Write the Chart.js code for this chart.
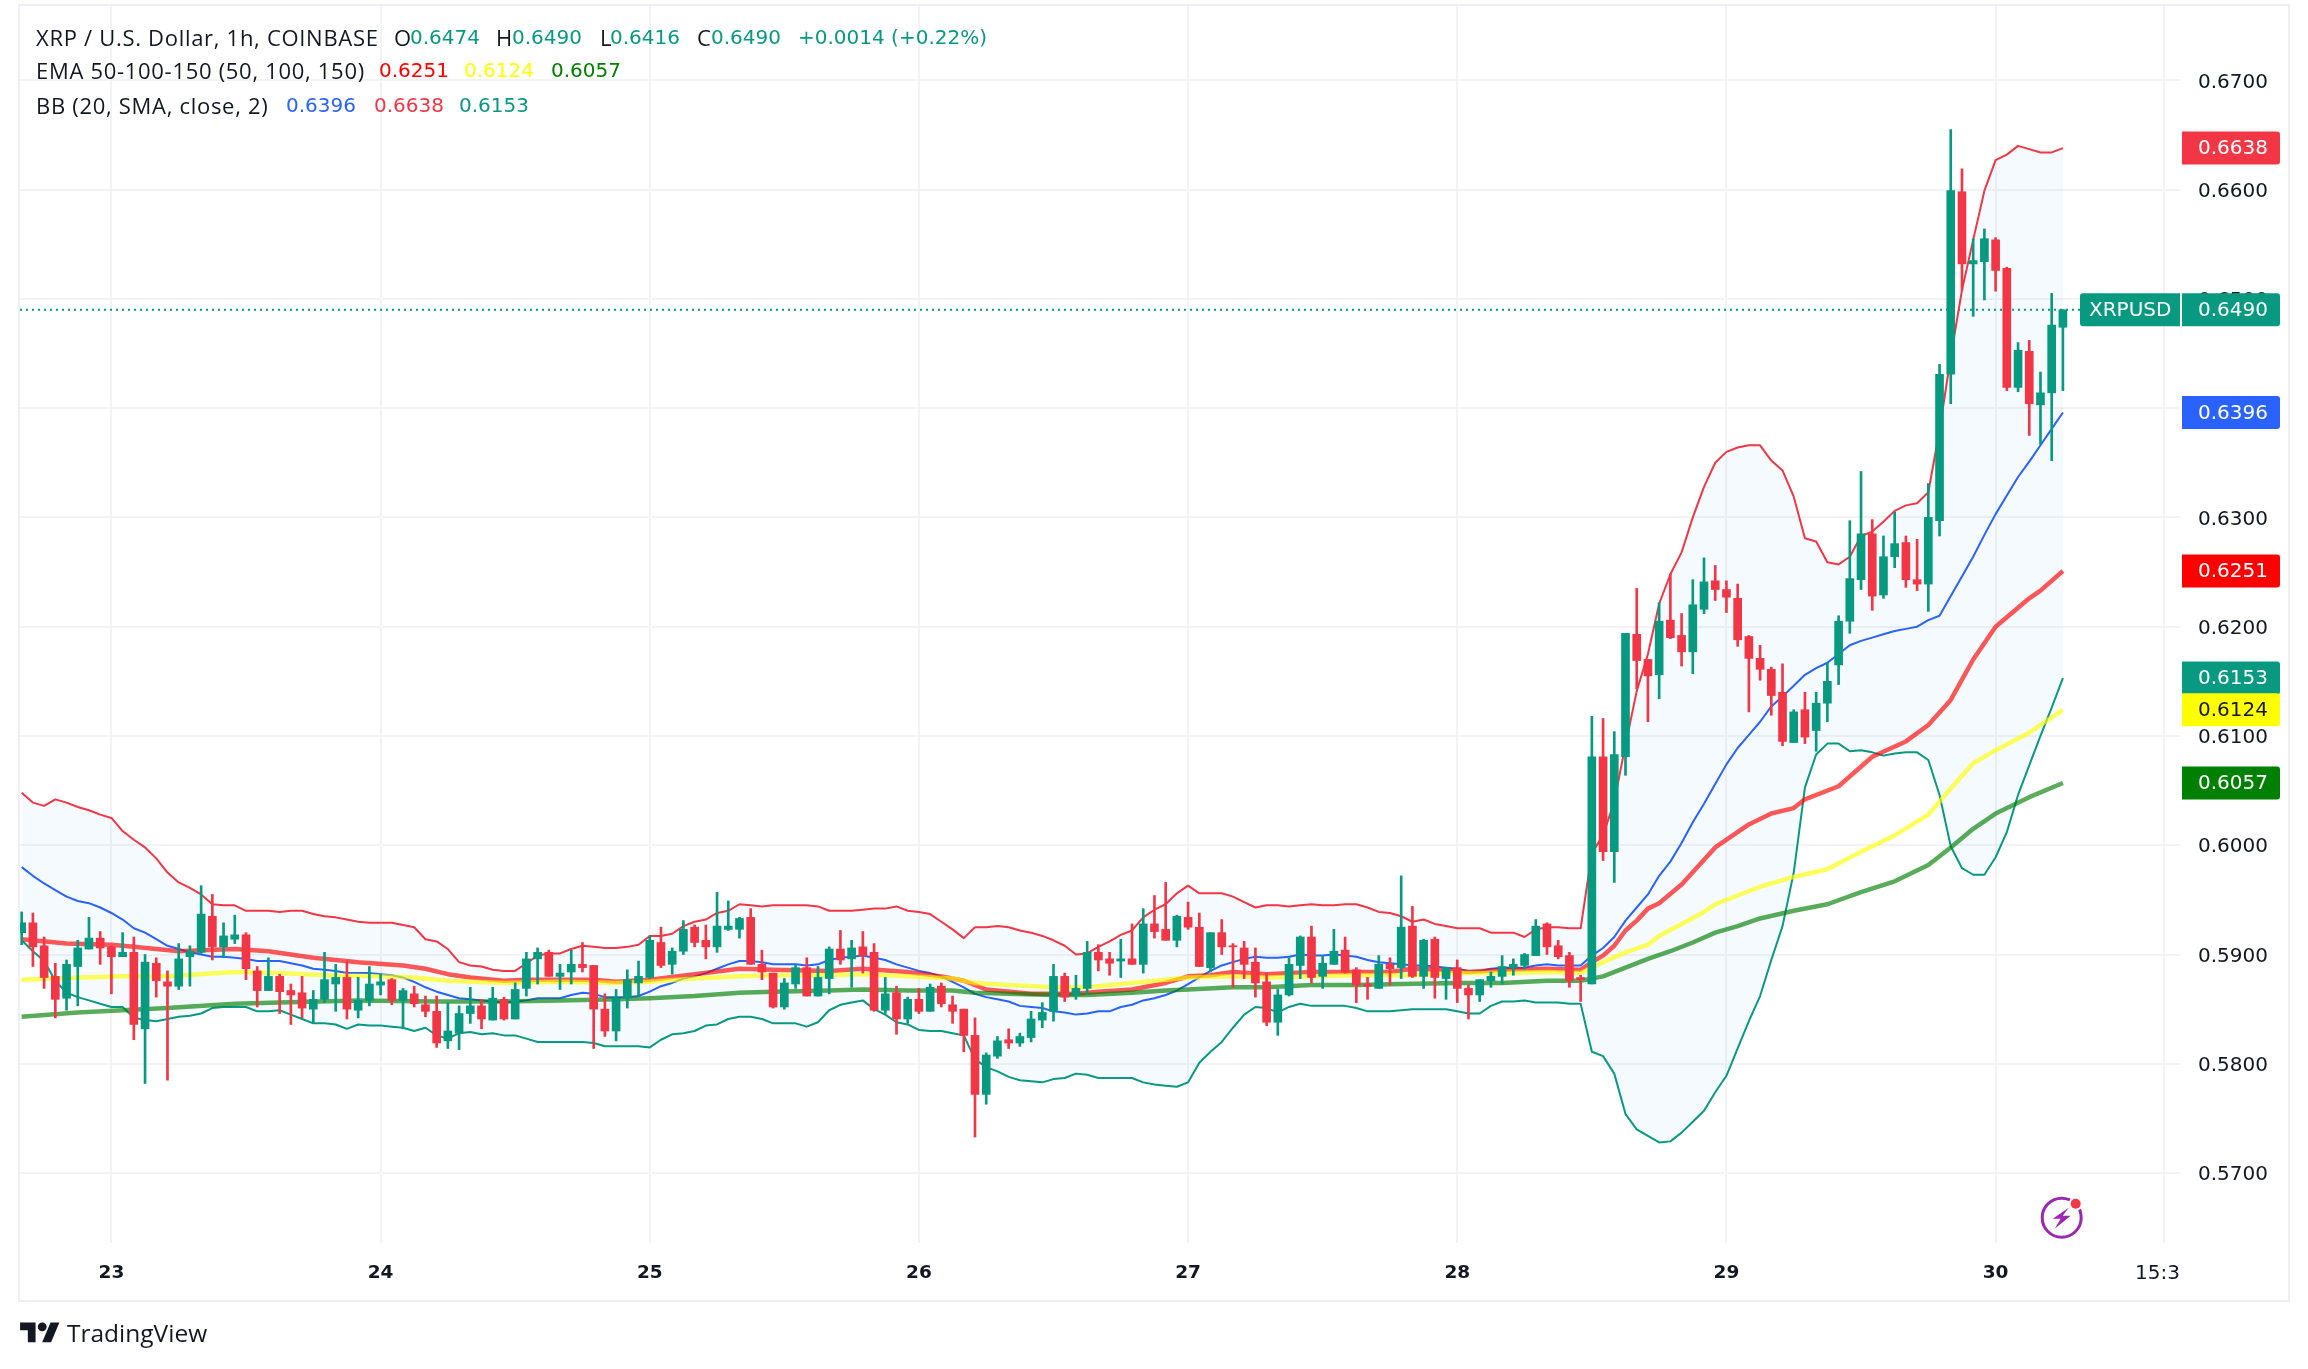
<!DOCTYPE html>
<html><head><meta charset="utf-8">
<script src="https://cdn.jsdelivr.net/npm/chart.js@4"></script>
<style>
html,body{margin:0;padding:0;background:#fff;width:2308px;height:1369px;overflow:hidden}
#c{position:absolute;left:0;top:0}
#frame{position:absolute;left:18px;top:4px;width:2268px;height:1294px;border:2px solid #eeeef4;pointer-events:none}
.t{position:absolute;font:20px/24px "DejaVu Sans";color:#131722;white-space:pre}
.l{font:22px/24px "Open Sans";letter-spacing:.7px}
.g{color:#089981}
#brand{position:absolute;left:67px;top:1315px;font:24.5px/36px "Open Sans";color:#131722}
#logo{position:absolute;left:20px;top:1318px}
</style></head><body>
<canvas id="c" width="2308" height="1369"></canvas>
<div id="frame"></div>
<div class="t l" style="left:36px;top:25px">XRP / U.S. Dollar, 1h, COINBASE</div>
<div class="t l" style="left:394px;top:25px">O</div><div class="t g" style="left:410px;top:25px">0.6474</div>
<div class="t l" style="left:496px;top:25px">H</div><div class="t g" style="left:512px;top:25px">0.6490</div>
<div class="t l" style="left:600px;top:25px">L</div><div class="t g" style="left:610px;top:25px">0.6416</div>
<div class="t l" style="left:697px;top:25px">C</div><div class="t g" style="left:711px;top:25px">0.6490</div>
<div class="t g" style="left:798px;top:25px">+0.0014 (+0.22%)</div>
<div class="t l" style="left:36px;top:58px">EMA 50-100-150 (50, 100, 150)</div>
<div class="t" style="left:379px;top:58px;color:#ff0000">0.6251</div>
<div class="t" style="left:464px;top:58px;color:#ffff00">0.6124</div>
<div class="t" style="left:551px;top:58px;color:#008000">0.6057</div>
<div class="t l" style="left:36px;top:93px">BB (20, SMA, close, 2)</div>
<div class="t" style="left:286px;top:93px;color:#2962ff">0.6396</div>
<div class="t" style="left:374px;top:93px;color:#f23645">0.6638</div>
<div class="t" style="left:459px;top:93px;color:#089981">0.6153</div>
<svg id="logo" width="40" height="31" viewBox="0 0 36 28"><path fill="#131722" d="M14 22H7V11H0V4h14v18zM28 22h-8l7.5-18h8L28 22z"/><circle fill="#131722" cx="20" cy="8" r="4"/></svg>
<div id="brand">TradingView</div>
<script>
const firstBar = -8;
const opens = [0.5920,0.5929,0.5908,0.5880,0.5860,0.5889,0.5905,0.5915,0.5907,0.5898,0.5902,0.5832,0.5892,0.5875,0.5871,0.5898,0.5902,0.5935,0.5907,0.5914,0.5918,0.5885,0.5867,0.5880,0.5867,0.5865,0.5850,0.5859,0.5873,0.5879,0.5849,0.5858,0.5872,0.5877,0.5858,0.5864,0.5854,0.5848,0.5821,0.5828,0.5846,0.5853,0.5840,0.5859,0.5841,0.5869,0.5896,0.5902,0.5880,0.5884,0.5891,0.5890,0.5850,0.5830,0.5860,0.5874,0.5879,0.5911,0.5891,0.5903,0.5925,0.5913,0.5907,0.5923,0.5923,0.5934,0.5891,0.5883,0.5852,0.5873,0.5888,0.5862,0.5878,0.5905,0.5896,0.5907,0.5902,0.5849,0.5865,0.5841,0.5859,0.5848,0.5871,0.5854,0.5850,0.5826,0.5772,0.5807,0.5822,0.5819,0.5824,0.5840,0.5848,0.5880,0.5863,0.5869,0.5902,0.5896,0.5894,0.5896,0.5891,0.5928,0.5923,0.5913,0.5934,0.5925,0.5888,0.5920,0.5908,0.5906,0.5893,0.5875,0.5838,0.5863,0.5890,0.5916,0.5880,0.5891,0.5904,0.5886,0.5873,0.5869,0.5891,0.5888,0.5926,0.5880,0.5914,0.5878,0.5888,0.5869,0.5863,0.5876,0.5880,0.5888,0.5890,0.5899,0.5928,0.5908,0.5899,0.5879,0.5873,0.6081,0.5994,0.6081,0.6193,0.6170,0.6156,0.6206,0.6192,0.6177,0.6216,0.6242,0.6234,0.6226,0.6191,0.6171,0.6161,0.6140,0.6094,0.6124,0.6105,0.6130,0.6165,0.6205,0.6243,0.6285,0.6229,0.6264,0.6277,0.6243,0.6239,0.6297,0.6431,0.6598,0.6532,0.6534,0.6554,0.6528,0.6419,0.6452,0.6403,0.6414,0.6474];
const highs = [0.5939,0.5938,0.5916,0.5892,0.5895,0.5913,0.5934,0.5921,0.5908,0.5920,0.5916,0.5900,0.5897,0.5885,0.5910,0.5908,0.5963,0.5955,0.5929,0.5936,0.5920,0.5889,0.5897,0.5882,0.5873,0.5880,0.5867,0.5902,0.5891,0.5894,0.5879,0.5889,0.5882,0.5878,0.5869,0.5871,0.5862,0.5862,0.5856,0.5853,0.5870,0.5859,0.5870,0.5861,0.5874,0.5902,0.5906,0.5904,0.5891,0.5904,0.5911,0.5890,0.5864,0.5868,0.5886,0.5894,0.5917,0.5925,0.5906,0.5931,0.5927,0.5927,0.5957,0.5949,0.5934,0.5942,0.5904,0.5883,0.5878,0.5890,0.5897,0.5889,0.5907,0.5922,0.5913,0.5921,0.5910,0.5879,0.5871,0.5861,0.5869,0.5873,0.5874,0.5862,0.5850,0.5842,0.5810,0.5825,0.5832,0.5828,0.5848,0.5856,0.5891,0.5883,0.5881,0.5912,0.5909,0.5902,0.5914,0.5928,0.5942,0.5954,0.5966,0.5936,0.5948,0.5938,0.5920,0.5932,0.5910,0.5912,0.5906,0.5883,0.5868,0.5897,0.5917,0.5926,0.5899,0.5923,0.5916,0.5888,0.5879,0.5899,0.5897,0.5972,0.5944,0.5914,0.5916,0.5888,0.5895,0.5872,0.5877,0.5884,0.5899,0.5896,0.5901,0.5932,0.5929,0.5913,0.5902,0.5881,0.6118,0.6116,0.6104,0.6194,0.6235,0.6170,0.6222,0.6248,0.6212,0.6243,0.6263,0.6256,0.6242,0.6239,0.6192,0.6183,0.6163,0.6166,0.6124,0.6140,0.6140,0.6167,0.6210,0.6297,0.6342,0.6298,0.6283,0.6305,0.6283,0.6280,0.6331,0.6440,0.6655,0.6619,0.6555,0.6564,0.6556,0.6529,0.6460,0.6462,0.6433,0.6505,0.6490];
const lows = [0.5909,0.5889,0.5869,0.5842,0.5849,0.5853,0.5905,0.5891,0.5864,0.5898,0.5822,0.5782,0.5861,0.5785,0.5868,0.5871,0.5901,0.5895,0.5897,0.5910,0.5877,0.5852,0.5867,0.5846,0.5836,0.5842,0.5837,0.5856,0.5848,0.5841,0.5842,0.5853,0.5863,0.5854,0.5832,0.5852,0.5843,0.5815,0.5814,0.5813,0.5837,0.5832,0.5840,0.5840,0.5841,0.5862,0.5873,0.5880,0.5868,0.5873,0.5884,0.5814,0.5825,0.5821,0.5851,0.5862,0.5878,0.5888,0.5882,0.5900,0.5907,0.5896,0.5902,0.5922,0.5915,0.5891,0.5877,0.5851,0.5850,0.5869,0.5862,0.5862,0.5864,0.5891,0.5870,0.5883,0.5848,0.5846,0.5827,0.5837,0.5846,0.5848,0.5852,0.5837,0.5811,0.5733,0.5763,0.5805,0.5814,0.5816,0.5820,0.5833,0.5839,0.5857,0.5859,0.5864,0.5885,0.5881,0.5879,0.5891,0.5883,0.5915,0.5913,0.5907,0.5923,0.5889,0.5884,0.5900,0.5870,0.5878,0.5861,0.5835,0.5826,0.5862,0.5878,0.5874,0.5869,0.5891,0.5883,0.5856,0.5859,0.5869,0.5872,0.5878,0.5879,0.5869,0.5860,0.5859,0.5856,0.5841,0.5857,0.5870,0.5873,0.5881,0.5887,0.5899,0.5900,0.5896,0.5870,0.5857,0.5873,0.5986,0.5966,0.6064,0.6143,0.6113,0.6134,0.6189,0.6164,0.6157,0.6212,0.6224,0.6213,0.6182,0.6122,0.6151,0.6119,0.6091,0.6094,0.6093,0.6086,0.6113,0.6147,0.6194,0.6234,0.6215,0.6226,0.6254,0.6236,0.6233,0.6214,0.6283,0.6404,0.6508,0.6484,0.6499,0.6507,0.6416,0.6415,0.6375,0.6367,0.6352,0.6416];
const closes = [0.5929,0.5907,0.5879,0.5859,0.5891,0.5906,0.5915,0.5906,0.5898,0.5902,0.5836,0.5893,0.5876,0.5871,0.5896,0.5903,0.5937,0.5907,0.5917,0.5918,0.5887,0.5867,0.5880,0.5866,0.5863,0.5851,0.5859,0.5877,0.5879,0.5850,0.5858,0.5873,0.5875,0.5858,0.5867,0.5855,0.5848,0.5819,0.5830,0.5846,0.5853,0.5841,0.5860,0.5841,0.5868,0.5896,0.5902,0.5880,0.5883,0.5891,0.5888,0.5850,0.5830,0.5860,0.5877,0.5880,0.5913,0.5890,0.5903,0.5923,0.5911,0.5907,0.5926,0.5926,0.5933,0.5891,0.5884,0.5852,0.5874,0.5888,0.5862,0.5879,0.5905,0.5895,0.5906,0.5899,0.5849,0.5864,0.5841,0.5859,0.5848,0.5870,0.5855,0.5848,0.5826,0.5772,0.5808,0.5821,0.5819,0.5825,0.5841,0.5847,0.5880,0.5861,0.5869,0.5902,0.5895,0.5892,0.5896,0.5891,0.5928,0.5921,0.5913,0.5935,0.5925,0.5889,0.5920,0.5907,0.5907,0.5891,0.5874,0.5838,0.5863,0.5891,0.5916,0.5879,0.5892,0.5903,0.5884,0.5872,0.5871,0.5891,0.5887,0.5925,0.5880,0.5913,0.5879,0.5888,0.5869,0.5863,0.5877,0.5880,0.5889,0.5891,0.5900,0.5926,0.5907,0.5898,0.5876,0.5877,0.6081,0.5994,0.6083,0.6194,0.6169,0.6155,0.6205,0.6190,0.6177,0.6220,0.6241,0.6234,0.6227,0.6188,0.6171,0.6161,0.6137,0.6095,0.6122,0.6099,0.6130,0.6150,0.6205,0.6244,0.6285,0.6228,0.6264,0.6276,0.6243,0.6239,0.6300,0.6431,0.6599,0.6532,0.6535,0.6555,0.6526,0.6419,0.6453,0.6404,0.6414,0.6476,0.6490];
const bbUpper = [0.6048,0.6039,0.6036,0.6042,0.6039,0.6035,0.6032,0.6028,0.6025,0.6013,0.6005,0.5998,0.5988,0.5975,0.5966,0.5961,0.5955,0.5946,0.5945,0.5945,0.5940,0.5940,0.5940,0.5939,0.5940,0.5940,0.5937,0.5935,0.5934,0.5932,0.5930,0.5929,0.5929,0.5929,0.5927,0.5925,0.5914,0.5912,0.5905,0.5893,0.5890,0.5889,0.5886,0.5885,0.5885,0.5892,0.5899,0.5901,0.5901,0.5905,0.5908,0.5907,0.5906,0.5906,0.5907,0.5909,0.5917,0.5917,0.5919,0.5926,0.5930,0.5932,0.5938,0.5940,0.5946,0.5945,0.5944,0.5945,0.5945,0.5945,0.5945,0.5944,0.5940,0.5940,0.5940,0.5941,0.5942,0.5942,0.5944,0.5940,0.5939,0.5937,0.5930,0.5923,0.5915,0.5925,0.5925,0.5926,0.5925,0.5922,0.5920,0.5917,0.5913,0.5908,0.5900,0.5901,0.5907,0.5912,0.5918,0.5922,0.5934,0.5941,0.5946,0.5956,0.5963,0.5956,0.5956,0.5956,0.5953,0.5948,0.5943,0.5945,0.5945,0.5944,0.5945,0.5946,0.5945,0.5945,0.5946,0.5946,0.5943,0.5939,0.5938,0.5935,0.5930,0.5932,0.5928,0.5926,0.5924,0.5924,0.5924,0.5920,0.5920,0.5920,0.5916,0.5923,0.5925,0.5925,0.5924,0.5924,0.5993,0.6009,0.6040,0.6092,0.6141,0.6175,0.6221,0.6248,0.6268,0.6300,0.6328,0.6350,0.6360,0.6364,0.6366,0.6366,0.6352,0.6343,0.6319,0.6281,0.6278,0.6259,0.6257,0.6264,0.6283,0.6287,0.6296,0.6306,0.6311,0.6313,0.6323,0.6380,0.6447,0.6508,0.6554,0.6599,0.6627,0.6632,0.6640,0.6637,0.6634,0.6634,0.6638];
const bbBasis = [0.5980,0.5972,0.5965,0.5959,0.5953,0.5949,0.5947,0.5943,0.5938,0.5932,0.5924,0.5920,0.5914,0.5908,0.5905,0.5902,0.5900,0.5898,0.5898,0.5897,0.5896,0.5894,0.5894,0.5894,0.5892,0.5890,0.5887,0.5886,0.5885,0.5883,0.5883,0.5883,0.5882,0.5881,0.5879,0.5875,0.5870,0.5866,0.5863,0.5860,0.5859,0.5858,0.5857,0.5856,0.5857,0.5858,0.5860,0.5860,0.5860,0.5863,0.5865,0.5864,0.5861,0.5861,0.5861,0.5862,0.5866,0.5871,0.5874,0.5878,0.5880,0.5883,0.5887,0.5891,0.5894,0.5894,0.5893,0.5891,0.5891,0.5891,0.5890,0.5891,0.5895,0.5897,0.5898,0.5899,0.5897,0.5895,0.5891,0.5888,0.5885,0.5883,0.5880,0.5875,0.5870,0.5864,0.5861,0.5859,0.5857,0.5853,0.5852,0.5851,0.5848,0.5847,0.5845,0.5846,0.5848,0.5848,0.5852,0.5854,0.5858,0.5860,0.5863,0.5867,0.5873,0.5879,0.5885,0.5890,0.5893,0.5896,0.5898,0.5897,0.5897,0.5898,0.5900,0.5899,0.5899,0.5900,0.5899,0.5898,0.5895,0.5893,0.5892,0.5891,0.5890,0.5890,0.5889,0.5888,0.5887,0.5885,0.5885,0.5887,0.5888,0.5888,0.5888,0.5890,0.5891,0.5890,0.5890,0.5890,0.5899,0.5906,0.5916,0.5931,0.5943,0.5955,0.5972,0.5985,0.6002,0.6021,0.6038,0.6056,0.6074,0.6089,0.6101,0.6113,0.6127,0.6136,0.6146,0.6156,0.6162,0.6167,0.6175,0.6183,0.6187,0.6190,0.6193,0.6196,0.6198,0.6200,0.6206,0.6210,0.6228,0.6246,0.6264,0.6284,0.6303,0.6320,0.6337,0.6351,0.6366,0.6381,0.6396];
const bbLower = [0.5913,0.5903,0.5894,0.5876,0.5865,0.5861,0.5858,0.5855,0.5852,0.5852,0.5842,0.5840,0.5839,0.5841,0.5843,0.5844,0.5846,0.5851,0.5852,0.5852,0.5852,0.5848,0.5848,0.5849,0.5845,0.5841,0.5837,0.5837,0.5836,0.5832,0.5836,0.5835,0.5835,0.5834,0.5833,0.5830,0.5833,0.5826,0.5823,0.5828,0.5829,0.5827,0.5828,0.5826,0.5826,0.5823,0.5820,0.5820,0.5820,0.5820,0.5820,0.5819,0.5816,0.5816,0.5816,0.5816,0.5815,0.5822,0.5827,0.5828,0.5830,0.5835,0.5836,0.5841,0.5843,0.5843,0.5841,0.5837,0.5837,0.5837,0.5834,0.5838,0.5849,0.5854,0.5856,0.5858,0.5850,0.5845,0.5838,0.5836,0.5831,0.5830,0.5830,0.5828,0.5826,0.5804,0.5797,0.5793,0.5788,0.5785,0.5784,0.5783,0.5786,0.5787,0.5791,0.5790,0.5787,0.5787,0.5787,0.5787,0.5783,0.5781,0.5780,0.5779,0.5783,0.5801,0.5811,0.5820,0.5833,0.5845,0.5852,0.5851,0.5847,0.5852,0.5855,0.5853,0.5853,0.5853,0.5853,0.5851,0.5848,0.5848,0.5848,0.5849,0.5850,0.5850,0.5850,0.5850,0.5848,0.5846,0.5846,0.5853,0.5857,0.5857,0.5858,0.5856,0.5856,0.5856,0.5855,0.5855,0.5811,0.5807,0.5791,0.5754,0.5740,0.5734,0.5728,0.5729,0.5737,0.5747,0.5757,0.5774,0.5789,0.5814,0.5839,0.5862,0.5895,0.5926,0.5975,0.6053,0.6083,0.6093,0.6093,0.6086,0.6087,0.6085,0.6082,0.6084,0.6085,0.6085,0.6078,0.6046,0.5999,0.5979,0.5973,0.5973,0.5989,0.6012,0.6046,0.6073,0.6100,0.6126,0.6153];
const ema50Bars = [-8,-4,0,2,6,8,11,14,18,22,26,28,30,32,35,37,40,43,45,48,52,56,59,64,67,71,74,76,78,82,86,88,91,94,96,98,100,103,107,111,114,116,119,121,124,128,131,132,133,134,135,136,137,138,140,143,146,148,150,151,154,157,160,162,164,166,168,171,172,174];
const ema50 = [0.5914,0.5910,0.5909,0.5907,0.5903,0.5904,0.5905,0.5903,0.5897,0.5893,0.5890,0.5887,0.5882,0.5879,0.5876,0.5877,0.5877,0.5877,0.5875,0.5877,0.5882,0.5887,0.5886,0.5885,0.5887,0.5884,0.5880,0.5876,0.5868,0.5864,0.5864,0.5866,0.5868,0.5874,0.5880,0.5881,0.5884,0.5882,0.5884,0.5884,0.5884,0.5887,0.5886,0.5884,0.5886,0.5887,0.5886,0.5893,0.5899,0.5908,0.5922,0.5931,0.5942,0.5947,0.5964,0.5998,0.6019,0.6029,0.6034,0.6042,0.6054,0.6081,0.6095,0.6110,0.6133,0.6170,0.6200,0.6226,0.6233,0.6251];
const ema100Bars = [-8,-3,1,5,11,15,19,24,27,30,35,40,45,48,52,56,59,64,67,71,75,77,80,84,87,91,94,96,100,103,107,111,116,120,124,128,131,133,135,137,138,140,142,143,145,147,150,153,156,159,162,164,166,168,171,174];
const ema100 = [0.5877,0.5879,0.5880,0.5880,0.5884,0.5883,0.5881,0.5880,0.5879,0.5876,0.5874,0.5875,0.5874,0.5875,0.5878,0.5880,0.5881,0.5881,0.5882,0.5880,0.5878,0.5874,0.5872,0.5870,0.5870,0.5874,0.5877,0.5879,0.5880,0.5879,0.5880,0.5881,0.5881,0.5883,0.5883,0.5884,0.5883,0.5893,0.5902,0.5909,0.5917,0.5928,0.5939,0.5946,0.5954,0.5962,0.5971,0.5978,0.5994,0.6009,0.6028,0.6052,0.6075,0.6087,0.6103,0.6124];
const ema150Bars = [-8,-3,1,5,11,15,22,29,35,40,45,48,52,56,59,64,67,71,75,77,80,84,87,91,94,96,100,103,107,111,115,120,124,128,131,133,135,137,139,141,143,145,147,150,153,156,159,162,164,166,168,171,174];
const ema150 = [0.5843,0.5847,0.5849,0.5851,0.5855,0.5856,0.5858,0.5857,0.5857,0.5858,0.5859,0.5860,0.5862,0.5865,0.5866,0.5867,0.5868,0.5867,0.5867,0.5865,0.5864,0.5863,0.5863,0.5865,0.5867,0.5868,0.5870,0.5870,0.5872,0.5872,0.5873,0.5874,0.5874,0.5876,0.5876,0.5880,0.5888,0.5896,0.5903,0.5911,0.5920,0.5926,0.5933,0.5940,0.5946,0.5957,0.5967,0.5982,0.5998,0.6015,0.6029,0.6044,0.6057];
const priceTicks = [0.57,0.58,0.59,0.60,0.61,0.62,0.63,0.64,0.65,0.66,0.67];
const timeTickBars = [0,24,48,72,96,120,144,168,183];
const timeTickLabels = ['23','24','25','26','27','28','29','30','15:3  '];
const tagPrices = [0.6638,0.6490,0.6396,0.6251,0.6153,0.6124,0.6057];
const tagColors = ['#f23645','#089981','#2962ff','#ff0000','#089981','#ffff00','#008000'];
const tagTextColors = ['#fff','#fff','#fff','#fff','#fff','#131722','#fff'];
const lastPrice = 0.6490, lastSymbol = 'XRPUSD';

const UP='#089981', DOWN='#f23645', BG='#f2f3f7';
const bars = opens.map((_,i)=>firstBar+i);
const col = opens.map((o,i)=>closes[i]>=o?UP:DOWN);
const pairs=(xs,ys)=>xs.map((x,i)=>({x,y:ys[i]}));
const lineDs=(label,data,color,width,order,extra)=>Object.assign({type:'line',label,data,borderColor:color,borderWidth:width,pointRadius:0,tension:0,order,fill:false,borderJoinStyle:'round'},extra||{});

const roundRect=(c,x,y,w,h,tl,tr)=>{c.beginPath();c.roundRect(x,y,w,h,[tl,tr,tr,tl]);c.fill();};
const overlay={id:'overlay',
 beforeDraw(ch){
  ch.scales.y.getLabelItems().forEach(it=>{if(!it._moved){it.options.translation[1]+=2;it._moved=true;}});
  ch.scales.x.getLabelItems().forEach(it=>{if(!it._moved){it.options.translation[1]+=1;it._moved=true;}});},
 beforeDatasetsDraw(ch){const c=ch.ctx,y=ch.scales.y.getPixelForValue(lastPrice);
  c.save();c.strokeStyle=UP;c.lineWidth=2;c.setLineDash([2,4]);c.beginPath();c.moveTo(ch.chartArea.left,y);c.lineTo(2080,y);c.stroke();c.restore();},
 afterDraw(ch){const c=ch.ctx,sc=ch.scales.y;c.save();c.font='20px "DejaVu Sans"';c.textBaseline='middle';
  tagPrices.forEach((p,i)=>{const y=sc.getPixelForValue(p);c.fillStyle=tagColors[i];roundRect(c,2182,y-16.5,98,33,0,3);
   c.fillStyle=tagTextColors[i];c.textAlign='left';c.fillText(p.toFixed(4),2198,y+1);});
  const y=sc.getPixelForValue(lastPrice);c.fillStyle=UP;roundRect(c,2080,y-16.5,100,33,3,0);
  c.fillStyle='#fff';c.fillText(lastSymbol,2089,y+1);
  const cx=2061.7,cy=1217.7;c.strokeStyle='#9c27b0';c.lineWidth=3;c.beginPath();c.arc(cx,cy,19.5,0,Math.PI*2);c.stroke();
  c.fillStyle='#9c27b0';c.beginPath();c.moveTo(cx+7,cy-10);c.lineTo(cx-9,cy+1);c.lineTo(cx-1,cy+1);c.lineTo(cx-7,cy+11);c.lineTo(cx+9,cy-2);c.lineTo(cx+1,cy-2);c.closePath();c.fill();
  c.fillStyle='#fff';c.beginPath();c.arc(cx+14,cy-14,7,0,Math.PI*2);c.fill();
  c.fillStyle='#f23645';c.beginPath();c.arc(cx+14,cy-14,5,0,Math.PI*2);c.fill();
  c.restore();}
};

new Chart(document.getElementById('c'),{
 type:'bar',
 plugins:[overlay],
 data:{datasets:[
  {label:'Body',data:bars.map((x,i)=>({x,y:[opens[i],closes[i]]})),backgroundColor:col,barThickness:8,grouped:false,order:0,minBarLength:1},
  {label:'Wick',data:bars.map((x,i)=>({x,y:[lows[i],highs[i]]})),backgroundColor:col,barThickness:2,grouped:false,order:1},
  lineDs('EMA 150',pairs(ema150Bars,ema150),'rgba(0,128,0,0.65)',4.5,2),
  lineDs('EMA 100',pairs(ema100Bars,ema100),'rgba(255,255,0,0.65)',4.5,3),
  lineDs('EMA 50',pairs(ema50Bars,ema50),'rgba(255,0,0,0.65)',4.5,4),
  lineDs('BB basis',pairs(bars,bbBasis),'#2962ff',2,5),
  lineDs('BB upper',pairs(bars,bbUpper),'#f23645',2,6,{fill:{target:7},backgroundColor:'rgba(33,150,243,0.05)'}),
  lineDs('BB lower',pairs(bars,bbLower),'#089981',2,7)
 ]},
 options:{responsive:false,animation:false,devicePixelRatio:1,
  layout:{padding:{left:20,top:6,right:20,bottom:70}},
  plugins:{legend:{display:false},tooltip:{enabled:false}},
  scales:{
   x:{type:'linear',min:-8.15,max:184.44,offset:false,border:{display:false},
      grid:{color:BG,lineWidth:2,drawTicks:false,offset:false},
      afterBuildTicks(s){s.ticks=timeTickBars.map(v=>({value:v}));},
      afterFit(s){s.height=56;s.paddingLeft=0;s.paddingRight=0;},
      ticks:{autoSkip:false,maxRotation:0,padding:18,color:'#131722',
        font:c=>c.index<8?{family:'DejaVu Sans',size:18.5,weight:'bold'}:{family:'DejaVu Sans',size:20},
        callback:(v)=>timeTickLabels[timeTickBars.indexOf(v)]}},
   y:{position:'right',min:0.5636,max:0.6768,border:{display:false},
      grid:{color:BG,lineWidth:2,drawTicks:false},
      afterBuildTicks(s){s.ticks=priceTicks.map(v=>({value:v}));},
      afterFit(s){s.width=108;s.paddingTop=0;s.paddingBottom=0;},
      ticks:{autoSkip:false,padding:18,color:'#131722',font:{family:'DejaVu Sans',size:20},callback:v=>v.toFixed(4)}}
  }}
});
</script>
</body></html>
